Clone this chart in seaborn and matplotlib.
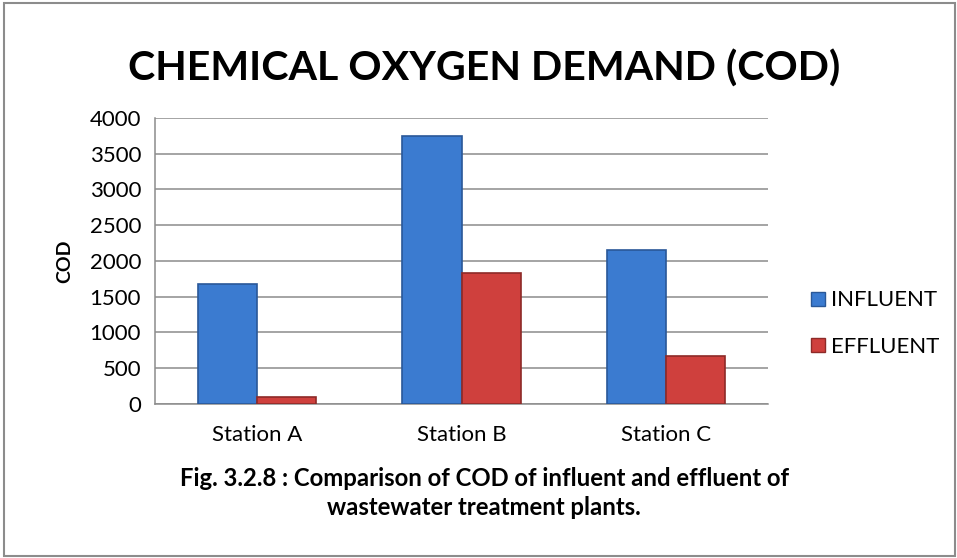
import numpy as np
import pandas as pd
import matplotlib
matplotlib.use("Agg")
import matplotlib.pyplot as plt
from matplotlib.patches import Rectangle
from matplotlib.lines import Line2D
import seaborn as sns

# data
stations = ["Station A", "Station B", "Station C"]
influent = [1675, 3750, 2145]
effluent = [95, 1825, 670]
series = ["INFLUENT", "EFFLUENT"]
yticks = [0, 500, 1000, 1500, 2000, 2500, 3000, 3500, 4000]

mypalette = ["#3b7bd0", "#cf403d"]
edges = ["#2a5898", "#8e2a28"]

df = pd.DataFrame({
    "station": stations * 2,
    "series": [series[0]] * 3 + [series[1]] * 3,
    "COD": influent + effluent,
})

sns.set_style("white")
plt.rcParams['font.family'] = ['Lato', 'DejaVu Sans']
plt.rcParams['text.color'] = 'black'
plt.rcParams['axes.labelcolor'] = 'black'
plt.rcParams['xtick.color'] = 'black'
plt.rcParams['ytick.color'] = 'black'

fig = plt.figure(figsize=(9.57, 5.58), dpi=100)
ax = fig.add_axes([0.162, 0.276, 0.6405, 0.513])

sns.barplot(data=df, x="station", y="COD", hue="series", palette=mypalette,
            width=0.58, ax=ax, legend=False, saturation=1)

for i, cont in enumerate(ax.containers):
    for bar in cont:
        bar.set_edgecolor(edges[i])
        bar.set_linewidth(1.2)
        bar.set_zorder(3)

ax.set_ylim(0, 4000)
ax.set_yticks(yticks)
ax.set_xlim(-0.5, 2.5)
ax.yaxis.grid(True, color="#8c8c8c", linewidth=1.1, zorder=0)
ax.set_axisbelow(True)
for s in ["top", "right"]:
    ax.spines[s].set_visible(False)
for s in ["left", "bottom"]:
    ax.spines[s].set_color("#8c8c8c")
    ax.spines[s].set_linewidth(1.1)

ax.tick_params(axis="y", length=5, color="#8c8c8c", labelsize=16, pad=5)
ax.tick_params(axis="x", length=0, labelsize=16, pad=15)
ax.set_xticks([-0.5, 0.5, 1.5, 2.5], minor=True)
ax.tick_params(axis="x", which="minor", length=6, color="#8c8c8c")

ax.set_xlabel("")
ax.set_ylabel("COD", fontsize=14, fontweight="bold", labelpad=12)

fig.text(0.506, 0.877, "CHEMICAL OXYGEN DEMAND (COD)", ha="center", va="center",
         fontsize=29.6, fontweight="bold")
fig.text(0.506, 0.143, "Fig. 3.2.8 : Comparison of COD of influent and effluent of",
         ha="center", va="center", fontsize=17.2, fontweight="bold")
fig.text(0.506, 0.091, "wastewater treatment plants.",
         ha="center", va="center", fontsize=17.2, fontweight="bold")

handles = [Line2D([], [], marker="s", linestyle="", markersize=10,
                  markerfacecolor=mypalette[i], markeredgecolor=edges[i])
           for i in range(2)]
fig.legend(handles, series, loc="center left", bbox_to_anchor=(0.822, 0.42),
           frameon=False, fontsize=16, handletextpad=0.1, labelspacing=1.2,
           handlelength=1.0)

fig.patches.append(Rectangle((0.004, 0.004), 0.994, 0.99, transform=fig.transFigure,
                             fill=False, edgecolor="#8c8c8c", linewidth=1.5))

fig.savefig("out.png", dpi=100)
